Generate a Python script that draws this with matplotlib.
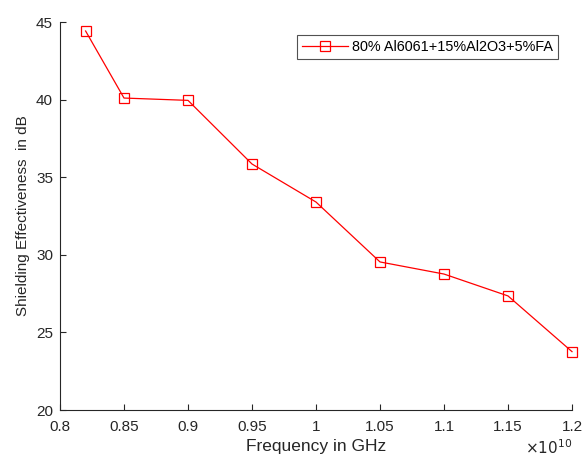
import matplotlib
matplotlib.use("Agg")
import matplotlib.pyplot as plt
from matplotlib.ticker import FuncFormatter

plt.rcParams['font.family'] = ['Liberation Sans', 'DejaVu Sans']

freq = [0.82e10, 0.85e10, 0.90e10, 0.95e10, 1.00e10, 1.05e10, 1.10e10, 1.15e10, 1.20e10]
se = [44.42, 40.10, 39.95, 35.85, 33.40, 29.54, 28.76, 27.35, 23.76]
xticks = [0.8e10, 0.85e10, 0.9e10, 0.95e10, 1.0e10, 1.05e10, 1.1e10, 1.15e10, 1.2e10]
yticks = [20, 25, 30, 35, 40, 45]
label = "80% Al6061+15%Al2O3+5%FA"

W, H = 583, 459
fig = plt.figure(figsize=(W/100, H/100), dpi=100)
ax = fig.add_axes([60/W, (H-410)/H, 512/W, 388/H])
ax.plot(freq, se, color='#ff0000', lw=0.9, marker='s', markersize=7,
        markerfacecolor='none', markeredgecolor='#ff0000', markeredgewidth=0.9,
        label=label, clip_on=False)
ax.set_xlim(0.8e10, 1.2e10)
ax.set_ylim(20, 45)
ax.set_xticks(xticks)
ax.set_yticks(yticks)
ax.xaxis.set_major_formatter(FuncFormatter(lambda v, p: f"{v/1e10:g}"))
ax.tick_params(direction='in', length=4, width=0.8, labelsize=11, colors='#262626')
ax.tick_params(axis='x', pad=7)
ax.tick_params(axis='y', pad=5)
for s in ['top', 'right']:
    ax.spines[s].set_visible(False)
for s in ['left', 'bottom']:
    ax.spines[s].set_color('#262626')
    ax.spines[s].set_linewidth(0.8)
ax.set_xlabel('Frequency in GHz', fontsize=12.5, color='#262626', labelpad=4)
ax.set_ylabel('Shielding Effectiveness  in dB', fontsize=11, color='#262626', labelpad=4)
fig.text(572/W, 1-457/H, r'$\times 10^{10}$', ha='right', va='bottom',
         fontsize=11, color='#262626')
leg = ax.legend(loc='upper right', bbox_to_anchor=(558/W, 1-35/H),
                bbox_transform=fig.transFigure, borderaxespad=0, fontsize=10.4,
                frameon=True, fancybox=False, edgecolor='#262626', handlelength=3.2,
                borderpad=0.35, handletextpad=0.25)
leg.get_frame().set_linewidth(0.8)
fig.savefig('out.png', dpi=100)
